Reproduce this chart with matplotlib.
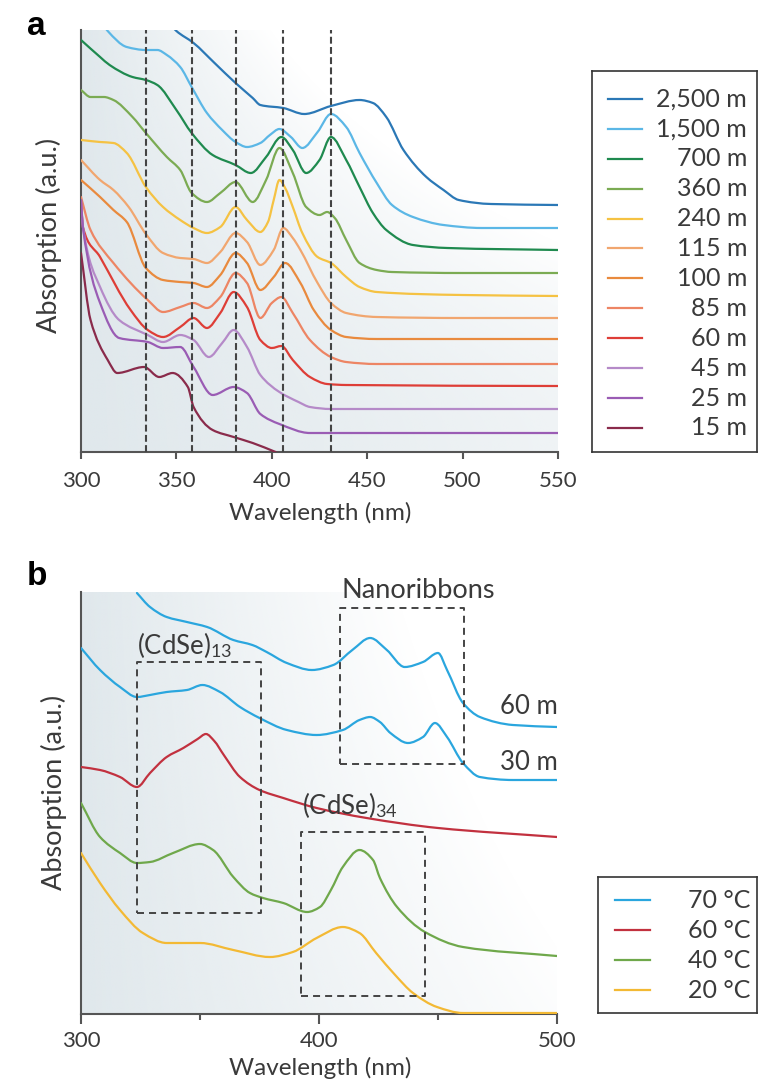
import numpy as np
import matplotlib
matplotlib.use('Agg')
import matplotlib.pyplot as plt
from matplotlib.lines import Line2D
from matplotlib.path import Path
from matplotlib.patches import PathPatch

plt.rcParams['font.family'] = ['Lato', 'DejaVu Sans']
plt.rcParams['mathtext.fontset'] = 'custom'
plt.rcParams['mathtext.rm'] = 'Lato'
plt.rcParams['mathtext.it'] = 'Lato:italic'

TXT = '#3a3a3a'
AXC = '#555555'

# ---------------- panel a : growth time series (absorption in a.u.) ----------------
wl_2500 = [348, 350, 359, 370, 381, 390, 394, 406, 417, 431, 446, 453, 460, 469, 481, 490, 498, 515, 550]
ab_2500 = [425, 421, 409, 389, 369, 354, 347, 344, 338, 346, 352, 349, 335, 302, 275, 262, 252, 248, 247]

wl_1500 = [312, 314, 324, 334, 340, 345, 352, 358, 366, 374, 381, 387, 394, 399, 404, 410, 416, 424, 431, 439,
           446, 455, 463, 474, 490, 510, 550]
ab_1500 = [426, 421, 405, 402, 402, 397, 385, 365, 339, 322, 310, 305, 309, 317, 323, 315, 304, 320, 338, 325,
           299, 269, 247, 235, 227, 224, 224]

wl_700 = [300, 310, 315, 327, 334, 340, 350, 358, 369, 381, 389, 397, 405, 411, 418, 425, 431, 439, 446, 453,
          460, 474, 492, 550]
ab_700 = [412, 395, 387, 375, 372, 367, 342, 319, 297, 287, 279, 295, 315, 302, 279, 292, 315, 292, 265, 239,
          222, 207, 204, 202]

wl_360 = [300, 305, 312, 317, 327, 334, 345, 352, 358, 366, 373, 381, 390, 397, 404, 411, 418, 425, 429, 433,
          439, 446, 455, 463, 500, 550]
ab_360 = [362, 355, 355, 352, 335, 319, 295, 282, 259, 250, 259, 270, 250, 272, 304, 279, 245, 237, 240, 234,
          212, 189, 182, 180, 179, 179]

wl_240 = [300, 310, 317, 324, 334, 343, 352, 359, 366, 373, 381, 387, 394, 398, 401, 404, 407, 411, 416, 424,
          431, 439, 446, 455, 500, 550]
ab_240 = [312, 310, 309, 299, 265, 245, 232, 224, 219, 225, 245, 232, 220, 230, 252, 272, 264, 245, 219, 195,
          189, 175, 165, 160, 157, 156]

wl_115 = [300, 310, 317, 325, 334, 343, 352, 359, 366, 373, 381, 387, 394, 401, 406, 411, 415, 424, 431, 439,
          455, 500, 550]
ab_115 = [292, 272, 262, 245, 218, 199, 194, 193, 189, 200, 219, 210, 187, 202, 224, 214, 202, 169, 149, 139,
          135, 134, 134]

wl_100 = [300, 310, 317, 324, 334, 343, 352, 359, 366, 373, 381, 387, 394, 401, 407, 415, 422, 431, 439, 455, 550]
ab_100 = [272, 255, 242, 230, 184, 172, 170, 169, 165, 177, 199, 189, 162, 175, 189, 169, 142, 122, 115, 113, 113]

wl_85 = [300, 305, 317, 335, 343, 352, 359, 366, 373, 381, 387, 394, 400, 405, 411, 420, 431, 439, 455, 550]
ab_85 = [255, 222, 189, 152, 140, 145, 149, 144, 155, 179, 169, 134, 149, 155, 139, 112, 95, 90, 88, 88]

wl_60 = [300, 301, 310, 326, 335, 343, 352, 359, 366, 373, 380, 387, 394, 400, 405, 411, 420, 429, 439, 550]
ab_60 = [252, 225, 195, 142, 122, 115, 125, 134, 124, 139, 160, 145, 112, 104, 106, 92, 75, 68, 67, 66]

wl_45 = [300, 301, 310, 320, 335, 343, 352, 359, 367, 374, 380, 387, 394, 404, 414, 420, 431, 550]
ab_45 = [252, 225, 165, 132, 117, 110, 117, 112, 95, 109, 122, 105, 77, 60, 50, 45, 43, 43]

wl_25 = [300, 301, 310, 320, 335, 343, 352, 359, 369, 380, 387, 394, 404, 420, 550]
ab_25 = [252, 225, 149, 114, 110, 104, 105, 85, 57, 65, 59, 38, 28, 19, 19]

wl_15 = [300, 305, 314, 319, 333, 341, 348, 356, 359, 369, 380, 390, 402]
ab_15 = [199, 132, 92, 79, 85, 75, 79, 65, 45, 22, 15, 9, 0]

a_labels = ['2,500 m', '1,500 m', '700 m', '360 m', '240 m', '115 m', '100 m', '85 m', '60 m', '45 m', '25 m', '15 m']
a_colors = ['#2b78b6', '#5bb7e6', '#1f8a4f', '#7bab53', '#f5c243', '#f1a66f', '#e98a3e', '#ed8564',
            '#de3e37', '#b58ac8', '#9a5cb4', '#8a2b4b']
a_wl = [wl_2500, wl_1500, wl_700, wl_360, wl_240, wl_115, wl_100, wl_85, wl_60, wl_45, wl_25, wl_15]
a_ab = [ab_2500, ab_1500, ab_700, ab_360, ab_240, ab_115, ab_100, ab_85, ab_60, ab_45, ab_25, ab_15]

a_peaks = [334, 358, 381, 406, 431]   # dashed guide lines (nm)

# ---------------- panel b : temperature series ----------------
wl_70_60 = [323.5, 329, 336, 344.5, 353, 364, 372, 378, 386.5, 397, 406, 414, 421.5, 428.5, 436, 443.7, 450,
            453.8, 460.5, 467.6, 481.5, 500]
ab_70_60 = [421, 407, 397, 392, 387, 374, 369, 362, 351, 344, 349, 364, 376, 364, 347, 352, 361, 344, 311, 297,
            289, 287]

wl_70_30 = [300, 308, 316.4, 323.5, 329, 336, 344.5, 351, 358.4, 366.8, 375, 386.5, 399, 410, 417, 421.5, 425.6,
            430, 437.4, 443.7, 448.7, 453.8, 460.5, 467.6, 481.5, 500]
ab_70_30 = [366, 344, 327, 317, 319, 322, 324, 329, 322, 307, 296, 284, 279, 284, 294, 297, 292, 281, 271, 277,
            291, 277, 251, 237, 234, 234]

wl_60c = [300, 308, 316.4, 323.5, 329, 336, 343, 349, 352.5, 356, 360, 366.8, 375, 385, 399, 420, 450, 500]
ab_60c = [247, 244, 237, 227, 241, 257, 266, 275, 280, 273, 259, 237, 224, 216, 206, 196, 186, 177]

wl_40c = [300, 308, 316.4, 323.5, 329, 338.7, 350, 355.5, 364, 371, 376.5, 385, 395, 400.4, 405, 410, 417,
          422.7, 425.6, 432.8, 444.5, 460.5, 500]
ab_40c = [211, 177, 161, 151, 152, 161, 170, 164, 137, 121, 116, 111, 102, 107, 124, 147, 164, 154, 136, 107,
          82, 67, 58]

wl_20c = [300, 308, 316.4, 326, 336, 350, 364, 379.4, 389, 399, 410, 417, 424, 432, 439.5, 449.6, 460.5, 500]
ab_20c = [161, 131, 104, 81, 71, 71, 64, 57, 62, 76, 87, 81, 61, 39, 21, 7, 1, 1]

b_labels = ['70 \u00b0C', '60 \u00b0C', '40 \u00b0C', '20 \u00b0C']
b_colors = ['#2aa6de', '#c2313f', '#6fa84b', '#f3b934']
b_series = [(wl_70_60, ab_70_60, 0), (wl_70_30, ab_70_30, 0), (wl_60c, ab_60c, 1),
            (wl_40c, ab_40c, 2), (wl_20c, ab_20c, 3)]

# dashed boxes: (x0, x1, y0, y1)
box_cdse13 = (323.5, 375.6, 101, 352)
box_ribbon = (409, 461, 250, 406)
box_cdse34 = (392.4, 444.5, 18, 182)

W, H = 759, 1082
fig = plt.figure(figsize=(W / 100, H / 100), dpi=100)


def px_axes(l, t, r, b):
    return fig.add_axes([l / W, 1 - b / H, (r - l) / W, (b - t) / H])


def smooth_line(ax, x, y, color):
    # draw the read points joined by a smooth (monotone cubic) bezier path
    x = np.asarray(x, float)
    y = np.asarray(y, float)
    h = np.diff(x)
    d = np.diff(y) / h
    m = np.zeros_like(y)
    m[0], m[-1] = d[0], d[-1]
    for i in range(1, len(x) - 1):
        if d[i - 1] * d[i] <= 0:
            m[i] = 0
        else:
            w1 = 2 * h[i] + h[i - 1]
            w2 = h[i] + 2 * h[i - 1]
            m[i] = (w1 + w2) / (w1 / d[i - 1] + w2 / d[i])
    verts = [(x[0], y[0])]
    codes = [Path.MOVETO]
    for i in range(len(x) - 1):
        verts += [(x[i] + h[i] / 3, y[i] + m[i] * h[i] / 3),
                  (x[i + 1] - h[i] / 3, y[i + 1] - m[i + 1] * h[i] / 3),
                  (x[i + 1], y[i + 1])]
        codes += [Path.CURVE4] * 3
    ax.add_patch(PathPatch(Path(verts, codes), fill=False, edgecolor=color, lw=1.6,
                           capstyle='round', joinstyle='round', zorder=3))


def shade(ax, x0, x1, y0, y1, steep):
    # soft grey-blue background, fading to white towards the upper right
    n = 300
    X, Y = np.meshgrid(np.linspace(0, 1, n), np.linspace(0, 1, n))
    if steep:
        alpha = np.clip(1 - X * (0.5 + 2.0 * Y ** 2), 0, 1)
    else:
        alpha = np.clip(1 - X * (0.9 + 0.6 * Y), 0, 1)
    img = np.zeros((n, n, 4))
    img[..., 0], img[..., 1], img[..., 2] = 224 / 255, 232 / 255, 236 / 255
    img[..., 3] = alpha
    ax.imshow(img, extent=(x0, x1, y0, y1), origin='lower', aspect='auto', zorder=0,
              interpolation='bilinear')


def style_axes(ax):
    for s in ['top', 'right']:
        ax.spines[s].set_visible(False)
    for s in ['left', 'bottom']:
        ax.spines[s].set_color(AXC)
        ax.spines[s].set_linewidth(1.5)
    ax.set_yticks([])
    ax.tick_params(axis='x', colors=AXC, labelcolor=TXT, labelsize=16, width=1.5, direction='out')


# ---- panel a ----
ax = px_axes(81, 30, 558, 452)
ax.set_xlim(300, 550)
ax.set_ylim(0, 422)
shade(ax, 300, 550, 0, 422, True)
for wl, ab, c in zip(a_wl, a_ab, a_colors):
    smooth_line(ax, wl, ab, c)
for p in a_peaks:
    ax.axvline(p, color='#444444', lw=1.5, ls=(0, (3.3, 1.6)), zorder=4)
style_axes(ax)
ax.set_xticks([300, 350, 400, 450, 500, 550])
ax.tick_params(axis='x', length=5, pad=8.8)

fig.text(49 / W, 1 - 235 / H, 'Absorption (a.u.)', rotation=90, ha='center', va='center',
         fontsize=19.5, color=TXT)
fig.text(320 / W, 1 - 520 / H, 'Wavelength (nm)', ha='center', va='baseline', fontsize=17.5, color=TXT)
fig.text(27 / W, 1 - 35 / H, 'a', fontsize=24, fontweight='bold', family='Liberation Sans')

# legend a
lg = px_axes(592, 71, 757, 452)
lg.set_xlim(0, 1)
lg.set_ylim(0, 1)
lg.set_xticks([])
lg.set_yticks([])
for s in lg.spines.values():
    s.set_color('#333333')
    s.set_linewidth(1.2)
for i, (lab, c) in enumerate(zip(a_labels, a_colors)):
    yy = 1 - (99 + 29.9 * i - 71) / 381
    lg.add_line(Line2D([0.097, 0.303], [yy, yy], color=c, lw=1.6))
    lg.text(0.94, yy, lab, ha='right', va='center', fontsize=18, color=TXT)

# ---- panel b ----
bx = px_axes(81, 592, 557, 1014)
bx.set_xlim(300, 500)
bx.set_ylim(0, 422)
shade(bx, 300, 500, 0, 422, False)
for wl, ab, k in b_series:
    smooth_line(bx, wl, ab, b_colors[k])
for (x0, x1, y0, y1) in [box_cdse13, box_ribbon, box_cdse34]:
    bx.plot([x0, x1, x1, x0, x0], [y0, y0, y1, y1, y0], color='#444444', lw=1.4,
            ls=(0, (3.6, 2.6)), zorder=4)
style_axes(bx)
bx.set_xticks([300, 400, 500])
bx.set_xticks([350, 450], minor=True)
bx.tick_params(axis='x', which='major', length=7.5, pad=4.5)
bx.tick_params(axis='x', which='minor', length=4, width=1.5, colors=AXC)

bx.text(441.8, 424, 'Nanoribbons', ha='center', va='center', fontsize=19.5, color=TXT, clip_on=False)
bx.text(323.5, 369, r'(CdSe)$_{\mathregular{13}}$', ha='left', va='center', fontsize=18.5, color=TXT)
bx.text(392.9, 209, r'(CdSe)$_{\mathregular{34}}$', ha='left', va='center', fontsize=18.5, color=TXT)
bx.text(476, 308, '60 m', ha='left', va='center', fontsize=18.5, color=TXT)
bx.text(476, 252, '30 m', ha='left', va='center', fontsize=18.5, color=TXT)

fig.text(54 / W, 1 - 792 / H, 'Absorption (a.u.)', rotation=90, ha='center', va='center',
         fontsize=19.5, color=TXT)
fig.text(320 / W, 1 - 1075 / H, 'Wavelength (nm)', ha='center', va='baseline', fontsize=17.5, color=TXT)
fig.text(27 / W, 1 - 585 / H, 'b', fontsize=24, fontweight='bold', family='Liberation Sans')

# legend b
lb = px_axes(598, 877, 757, 1013)
lb.set_xlim(0, 1)
lb.set_ylim(0, 1)
lb.set_xticks([])
lb.set_yticks([])
for s in lb.spines.values():
    s.set_color('#333333')
    s.set_linewidth(1.2)
for i, (lab, c) in enumerate(zip(b_labels, b_colors)):
    yy = 1 - (900 + 30 * i - 877) / 136
    lb.add_line(Line2D([0.107, 0.327], [yy, yy], color=c, lw=1.6))
    lb.text(0.956, yy, lab, ha='right', va='center', fontsize=18, color=TXT)

fig.savefig('out.png', dpi=100)
